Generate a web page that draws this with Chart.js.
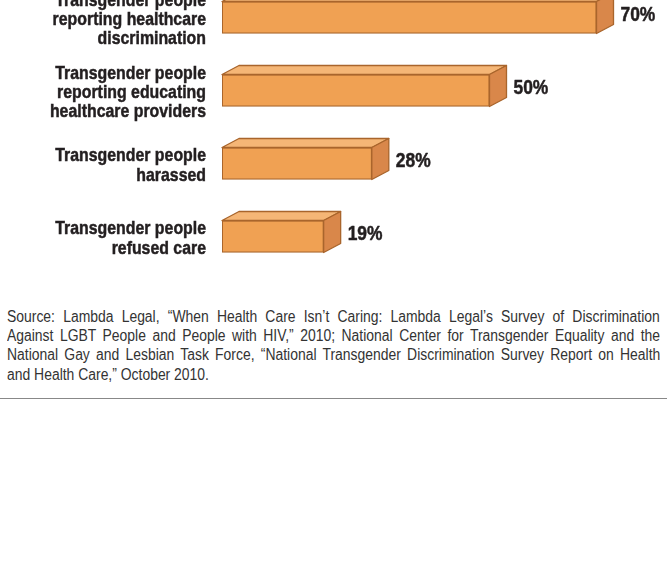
<!DOCTYPE html>
<html>
<head>
<meta charset="utf-8">
<script src="https://cdn.jsdelivr.net/npm/chart.js@4.4.1/dist/chart.umd.min.js"></script>
<style>
  html, body { margin: 0; padding: 0; background: #fff; }
  body { width: 667px; height: 564px; position: relative; overflow: hidden; }
  #chartBox { position: absolute; left: 0; top: -19px; width: 667px; height: 292px; }
  #source {
    position: absolute; left: 7px; top: 307px; width: 653px;
    font-family: 'Liberation Sans', Arial, sans-serif;
    font-size: 16px; line-height: 19.2px; color: #333;
  }
  /* narrow the regular face into a condensed look */
  #source div { white-space: nowrap; transform: scaleX(0.87); transform-origin: 0 0; }
  #rule { position: absolute; left: 0; top: 398px; width: 667px; height: 1px; background: #888; }
</style>
</head>
<body>
<div id="chartBox"><canvas id="barChart" width="667" height="292"></canvas></div>
<div id="source">
  <div class="just"><span>Source: Lambda Legal, “When Health Care Isn’t Caring: Lambda Legal’s Survey of Discrimination</span></div>
  <div class="just"><span>Against LGBT People and People with HIV,” 2010; National Center for Transgender Equality and the</span></div>
  <div class="just"><span>National Gay and Lesbian Task Force, “National Transgender Discrimination Survey Report on Health</span></div>
  <div><span>and Health Care,” October 2010.</span></div>
</div>
<div id="rule"></div>
<script>
const categories = [
  ['Transgender people', 'reporting healthcare', 'discrimination'],
  ['Transgender people', 'reporting educating', 'healthcare providers'],
  ['Transgender people', 'harassed'],
  ['Transgender people', 'refused care']
];
const percentages = [70, 50, 28, 19];

const frontColor = '#f0a153';
const topColor = '#f5b676';
const sideColor = '#d9874a';
const edgeColor = '#a9652c';
const textColor = '#231f20';
const sansFamily = "'Liberation Sans', Arial, sans-serif";

// depth of the fake 3D box
const depthX = 17;
const depthY = 9;

// condensed heavy text: bold face squeezed horizontally, lightly stroked
function narrowText(ctx, str, x, y, size, squeeze, align) {
  ctx.save();
  ctx.font = 'bold ' + size + 'px ' + sansFamily;
  ctx.textAlign = align;
  ctx.textBaseline = 'alphabetic';
  ctx.translate(x, y);
  ctx.scale(squeeze, 1);
  ctx.fillStyle = textColor;
  ctx.strokeStyle = textColor;
  ctx.lineWidth = 0.5;
  ctx.fillText(str, 0, 0);
  ctx.strokeText(str, 0, 0);
  ctx.restore();
}

const bar3d = {
  id: 'bar3d',
  afterDatasetsDraw(chart) {
    const ctx = chart.ctx;
    const meta = chart.getDatasetMeta(0);
    meta.data.forEach((bar, i) => {
      const { x, y, base, height } = bar.getProps(['x', 'y', 'base', 'height'], true);
      const top = y - height / 2;
      const bottom = y + height / 2;
      ctx.save();
      ctx.lineWidth = 1.3;
      ctx.strokeStyle = edgeColor;
      ctx.lineJoin = 'round';

      // top face
      ctx.beginPath();
      ctx.moveTo(base, top);
      ctx.lineTo(base + depthX, top - depthY);
      ctx.lineTo(x + depthX, top - depthY);
      ctx.lineTo(x, top);
      ctx.closePath();
      ctx.fillStyle = topColor;
      ctx.fill();
      ctx.stroke();

      // right side
      ctx.beginPath();
      ctx.moveTo(x, top);
      ctx.lineTo(x + depthX, top - depthY);
      ctx.lineTo(x + depthX, bottom - depthY);
      ctx.lineTo(x, bottom);
      ctx.closePath();
      ctx.fillStyle = sideColor;
      ctx.fill();
      ctx.stroke();

      // value label
      narrowText(ctx, percentages[i] + '%', x + depthX + 7, y + 3.5, 20, 0.87, 'left');
      ctx.restore();
    });
  }
};

// category labels, placed from the y scale
const categoryLabels = {
  id: 'categoryLabels',
  afterDraw(chart) {
    const ctx = chart.ctx;
    const yScale = chart.scales.y;
    const right = chart.chartArea.left - 16;
    const lineGap = 19.3;
    categories.forEach((lines, i) => {
      const mid = yScale.getPixelForTick(i) + 7.5;
      lines.forEach((line, j) => {
        const ly = mid + (j - (lines.length - 1) / 2) * lineGap;
        narrowText(ctx, line, right, ly, 19, 0.835, 'right');
      });
    });
  }
};

new Chart(document.getElementById('barChart'), {
  type: 'bar',
  data: {
    labels: categories,
    datasets: [{
      data: percentages,
      backgroundColor: frontColor,
      borderColor: edgeColor,
      borderWidth: 1.3,
      borderSkipped: false,
      barThickness: 32
    }]
  },
  options: {
    indexAxis: 'y',
    responsive: false,
    animation: false,
    layout: { padding: { left: 0, right: 17, top: 0, bottom: 0 } },
    plugins: { legend: { display: false }, tooltip: { enabled: false } },
    scales: {
      x: { display: false, min: 0, max: 80 },
      y: {
        grid: { display: false, drawTicks: false },
        border: { display: false },
        ticks: { display: false },
        afterFit(scale) {
          scale.width = 222;
          scale.paddingTop = 0;
          scale.paddingBottom = 0;
        }
      }
    }
  },
  plugins: [bar3d, categoryLabels]
});

// stretch the justified source lines to the full block width
function justifySource() {
  const full = 653 / 0.87;
  document.querySelectorAll('#source .just span').forEach(span => {
    span.style.wordSpacing = '0px';
    const w = span.offsetWidth;
    const gaps = (span.textContent.match(/ /g) || []).length;
    if (gaps) span.style.wordSpacing = ((full - w) / gaps) + 'px';
  });
}
justifySource();
document.fonts.ready.then(justifySource);
</script>
</body>
</html>
